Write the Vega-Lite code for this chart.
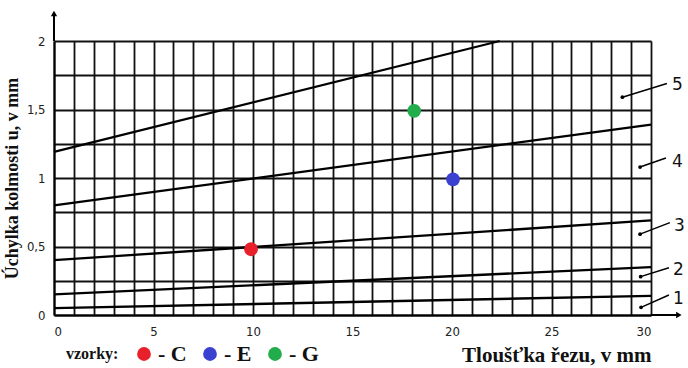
{
  "$schema": "https://vega.github.io/schema/vega-lite/v6.json",
  "width": 597,
  "height": 274,
  "autosize": {"type": "none"},
  "padding": {"left": 54, "top": 41, "right": 37, "bottom": 53},
  "background": "white",
  "config": {
    "view": {"stroke": null},
    "axis": {
      "grid": true, "gridColor": "#111", "gridWidth": 1.8, "gridOpacity": 1,
      "ticks": false, "domain": true, "domainColor": "#000", "domainWidth": 2,
      "labelFont": "DejaVu Sans Condensed", "labelFontSize": 13, "labelColor": "#222",
      "labelOverlap": false,
      "titleFont": "Liberation Serif", "titleFontWeight": "bold", "titleColor": "#111"
    }
  },
  "datasets": {
    "lines": [
      {"series": "1", "x": 0, "y": 0.05}, {"series": "1", "x": 30, "y": 0.14},
      {"series": "2", "x": 0, "y": 0.15}, {"series": "2", "x": 30, "y": 0.35},
      {"series": "3", "x": 0, "y": 0.4}, {"series": "3", "x": 30, "y": 0.69},
      {"series": "4", "x": 0, "y": 0.8}, {"series": "4", "x": 30, "y": 1.39},
      {"series": "5", "x": 0, "y": 1.19}, {"series": "5", "x": 22.4, "y": 2.0}
    ],
    "samples": [
      {"sample": "C", "x": 9.9, "y": 0.48},
      {"sample": "E", "x": 20.05, "y": 0.99},
      {"sample": "G", "x": 18.1, "y": 1.49}
    ],
    "labels": [
      {"n": "5", "x": 28.56, "y": 1.59, "lx": 30.8, "ly": 1.69, "tx": 31.05, "ty": 1.68},
      {"n": "4", "x": 29.45, "y": 1.08, "lx": 30.75, "ly": 1.146, "tx": 31.05, "ty": 1.12},
      {"n": "3", "x": 29.45, "y": 0.59, "lx": 30.95, "ly": 0.674, "tx": 31.15, "ty": 0.65},
      {"n": "2", "x": 29.48, "y": 0.28, "lx": 30.9, "ly": 0.345, "tx": 31.1, "ty": 0.33},
      {"n": "1", "x": 29.5, "y": 0.056, "lx": 30.9, "ly": 0.146, "tx": 31.1, "ty": 0.12}
    ],
    "arrows": [
      {"x": 0, "y": 2, "x2": 0, "y2": 2.2, "shape": "triangle-up"},
      {"x": 30, "y": 0, "x2": 31.4, "y2": 0, "shape": "triangle-right"}
    ]
  },
  "layer": [
    {
      "data": {"name": "lines"},
      "mark": {"type": "line", "color": "black", "strokeWidth": 2.3},
      "encoding": {
        "x": {
          "field": "x", "type": "quantitative",
          "scale": {"domain": [0, 30], "nice": false, "zero": false},
          "axis": {
            "values": [0,1,2,3,4,5,6,7,8,9,10,11,12,13,14,15,16,17,18,19,20,21,22,23,24,25,26,27,28,29,30],
            "labelExpr": "datum.value % 5 === 0 ? datum.label : ''",
            "labelPadding": 10,
            "title": "Tloušťka řezu, v mm", "titleAnchor": "end", "titleFontSize": 21, "titlePadding": 6
          }
        },
        "y": {
          "field": "y", "type": "quantitative",
          "scale": {"domain": [0, 2], "nice": false},
          "axis": {
            "values": [0, 0.25, 0.5, 0.75, 1, 1.25, 1.5, 1.75, 2],
            "format": "~g",
            "labelExpr": "datum.value % 0.5 === 0 ? replace(datum.label, '.', ',') : ''",
            "labelPadding": 9,
            "title": "Úchylka kolmosti u, v mm", "titleFontSize": 18, "titlePadding": 5
          }
        },
        "detail": {"field": "series"}
      }
    },
    {
      "data": {"name": "arrows"},
      "mark": {"type": "rule", "color": "black", "strokeWidth": 2},
      "encoding": {
        "x": {
          "field": "x", "type": "quantitative",
          "axis": {
            "values": [0,1,2,3,4,5,6,7,8,9,10,11,12,13,14,15,16,17,18,19,20,21,22,23,24,25,26,27,28,29,30],
            "labelExpr": "datum.value % 5 === 0 ? datum.label : ''",
            "labelPadding": 10,
            "title": "Tloušťka řezu, v mm", "titleAnchor": "end", "titleFontSize": 21, "titlePadding": 6
          }
        },
        "y": {
          "field": "y", "type": "quantitative",
          "axis": {
            "values": [0, 0.25, 0.5, 0.75, 1, 1.25, 1.5, 1.75, 2],
            "format": "~g",
            "labelExpr": "datum.value % 0.5 === 0 ? replace(datum.label, '.', ',') : ''",
            "labelPadding": 9,
            "title": "Úchylka kolmosti u, v mm", "titleFontSize": 18, "titlePadding": 5
          }
        },
        "x2": {"field": "x2"},
        "y2": {"field": "y2"}
      }
    },
    {
      "data": {"name": "arrows"},
      "mark": {"type": "point", "filled": true, "color": "black", "size": 40, "opacity": 1},
      "encoding": {
        "x": {
          "field": "x2", "type": "quantitative",
          "axis": {
            "values": [0,1,2,3,4,5,6,7,8,9,10,11,12,13,14,15,16,17,18,19,20,21,22,23,24,25,26,27,28,29,30],
            "labelExpr": "datum.value % 5 === 0 ? datum.label : ''",
            "labelPadding": 10,
            "title": "Tloušťka řezu, v mm", "titleAnchor": "end", "titleFontSize": 21, "titlePadding": 6
          }
        },
        "y": {
          "field": "y2", "type": "quantitative",
          "axis": {
            "values": [0, 0.25, 0.5, 0.75, 1, 1.25, 1.5, 1.75, 2],
            "format": "~g",
            "labelExpr": "datum.value % 0.5 === 0 ? replace(datum.label, '.', ',') : ''",
            "labelPadding": 9,
            "title": "Úchylka kolmosti u, v mm", "titleFontSize": 18, "titlePadding": 5
          }
        },
        "shape": {"field": "shape", "type": "nominal", "scale": null, "legend": null}
      }
    },
    {
      "data": {"name": "labels"},
      "mark": {"type": "rule", "color": "black", "strokeWidth": 1.5},
      "encoding": {
        "x": {
          "field": "x", "type": "quantitative",
          "axis": {
            "values": [0,1,2,3,4,5,6,7,8,9,10,11,12,13,14,15,16,17,18,19,20,21,22,23,24,25,26,27,28,29,30],
            "labelExpr": "datum.value % 5 === 0 ? datum.label : ''",
            "labelPadding": 10,
            "title": "Tloušťka řezu, v mm", "titleAnchor": "end", "titleFontSize": 21, "titlePadding": 6
          }
        },
        "y": {
          "field": "y", "type": "quantitative",
          "axis": {
            "values": [0, 0.25, 0.5, 0.75, 1, 1.25, 1.5, 1.75, 2],
            "format": "~g",
            "labelExpr": "datum.value % 0.5 === 0 ? replace(datum.label, '.', ',') : ''",
            "labelPadding": 9,
            "title": "Úchylka kolmosti u, v mm", "titleFontSize": 18, "titlePadding": 5
          }
        },
        "x2": {"field": "lx"},
        "y2": {"field": "ly"}
      }
    },
    {
      "data": {"name": "labels"},
      "mark": {"type": "point", "filled": true, "color": "black", "size": 14, "opacity": 1},
      "encoding": {
        "x": {
          "field": "x", "type": "quantitative",
          "axis": {
            "values": [0,1,2,3,4,5,6,7,8,9,10,11,12,13,14,15,16,17,18,19,20,21,22,23,24,25,26,27,28,29,30],
            "labelExpr": "datum.value % 5 === 0 ? datum.label : ''",
            "labelPadding": 10,
            "title": "Tloušťka řezu, v mm", "titleAnchor": "end", "titleFontSize": 21, "titlePadding": 6
          }
        },
        "y": {
          "field": "y", "type": "quantitative",
          "axis": {
            "values": [0, 0.25, 0.5, 0.75, 1, 1.25, 1.5, 1.75, 2],
            "format": "~g",
            "labelExpr": "datum.value % 0.5 === 0 ? replace(datum.label, '.', ',') : ''",
            "labelPadding": 9,
            "title": "Úchylka kolmosti u, v mm", "titleFontSize": 18, "titlePadding": 5
          }
        }
      }
    },
    {
      "data": {"name": "labels"},
      "mark": {"type": "text", "align": "left", "baseline": "middle", "font": "DejaVu Sans", "fontSize": 17, "color": "#111"},
      "encoding": {
        "x": {
          "field": "tx", "type": "quantitative",
          "axis": {
            "values": [0,1,2,3,4,5,6,7,8,9,10,11,12,13,14,15,16,17,18,19,20,21,22,23,24,25,26,27,28,29,30],
            "labelExpr": "datum.value % 5 === 0 ? datum.label : ''",
            "labelPadding": 10,
            "title": "Tloušťka řezu, v mm", "titleAnchor": "end", "titleFontSize": 21, "titlePadding": 6
          }
        },
        "y": {
          "field": "ty", "type": "quantitative",
          "axis": {
            "values": [0, 0.25, 0.5, 0.75, 1, 1.25, 1.5, 1.75, 2],
            "format": "~g",
            "labelExpr": "datum.value % 0.5 === 0 ? replace(datum.label, '.', ',') : ''",
            "labelPadding": 9,
            "title": "Úchylka kolmosti u, v mm", "titleFontSize": 18, "titlePadding": 5
          }
        },
        "text": {"field": "n"}
      }
    },
    {
      "data": {"name": "samples"},
      "mark": {"type": "point", "filled": true, "size": 190, "opacity": 1, "shape": "circle"},
      "encoding": {
        "x": {
          "field": "x", "type": "quantitative",
          "axis": {
            "values": [0,1,2,3,4,5,6,7,8,9,10,11,12,13,14,15,16,17,18,19,20,21,22,23,24,25,26,27,28,29,30],
            "labelExpr": "datum.value % 5 === 0 ? datum.label : ''",
            "labelPadding": 10,
            "title": "Tloušťka řezu, v mm", "titleAnchor": "end", "titleFontSize": 21, "titlePadding": 6
          }
        },
        "y": {
          "field": "y", "type": "quantitative",
          "axis": {
            "values": [0, 0.25, 0.5, 0.75, 1, 1.25, 1.5, 1.75, 2],
            "format": "~g",
            "labelExpr": "datum.value % 0.5 === 0 ? replace(datum.label, '.', ',') : ''",
            "labelPadding": 9,
            "title": "Úchylka kolmosti u, v mm", "titleFontSize": 18, "titlePadding": 5
          }
        },
        "color": {
          "field": "sample", "type": "nominal",
          "scale": {"domain": ["C", "E", "G"], "range": ["#e8202b", "#3a40d0", "#21ad4c"]},
          "legend": {
            "orient": "none", "legendX": 12, "legendY": 302,
            "direction": "horizontal",
            "title": "vzorky:", "titleOrient": "left",
            "titleFont": "Liberation Serif", "titleFontSize": 16, "titleFontWeight": "bold", "titleColor": "#111",
            "titlePadding": 14,
            "labelExpr": "'- ' + datum.label",
            "labelFont": "Liberation Serif", "labelFontSize": 22, "labelFontWeight": "bold", "labelColor": "#111",
            "symbolType": "circle", "symbolSize": 190, "symbolStrokeWidth": 0, "symbolOpacity": 1,
            "labelOffset": 3, "columnPadding": 12
          }
        }
      }
    }
  ]
}
